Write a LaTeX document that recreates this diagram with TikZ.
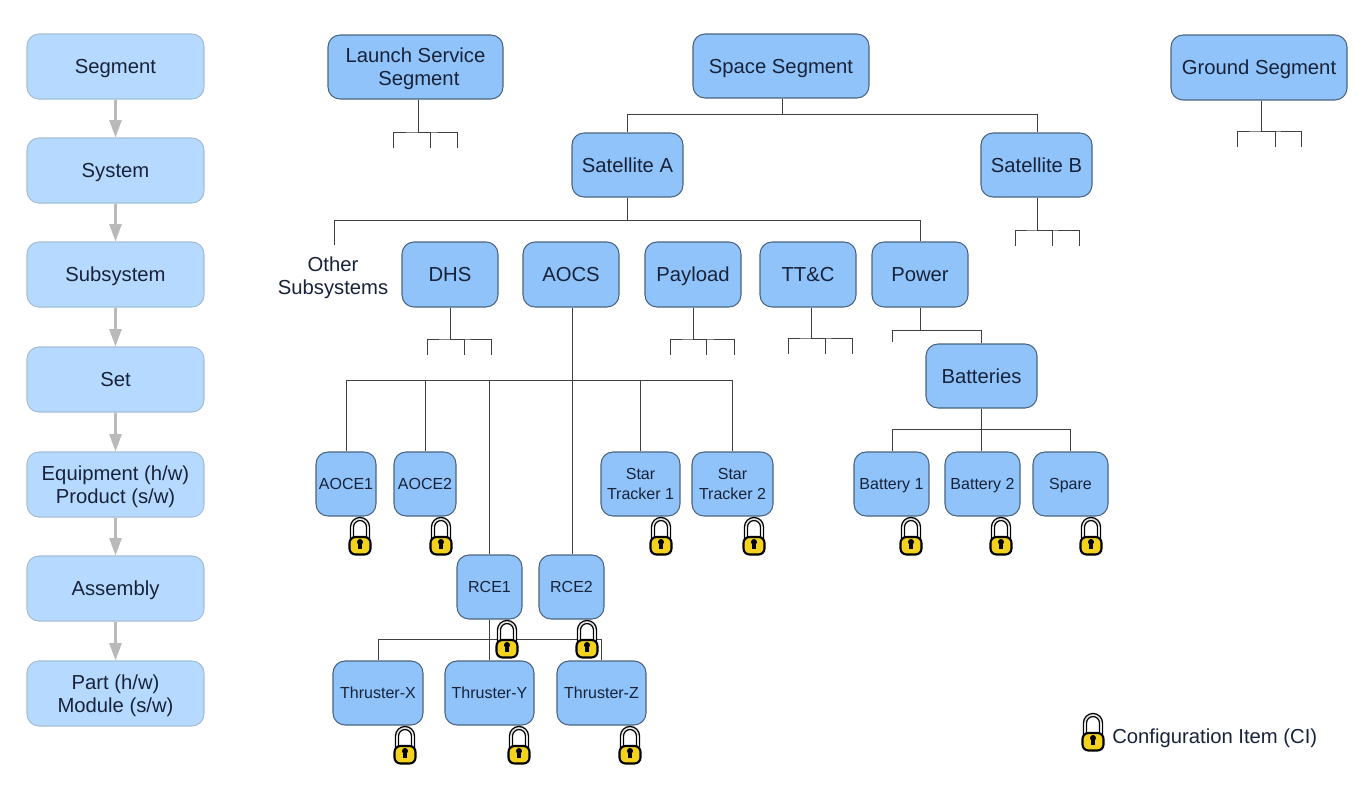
\documentclass[tikz,border=0pt]{standalone}
\usepackage{fontspec}
\setmainfont{Liberation Sans}
\usetikzlibrary{arrows.meta}
\definecolor{mainfill}{HTML}{90C3FA}
\definecolor{mainedge}{HTML}{4A6480}
\definecolor{levelfill}{HTML}{B6DAFF}
\definecolor{leveledge}{HTML}{A4BDD6}
\definecolor{inktext}{HTML}{18233A}
\definecolor{lockgold}{HTML}{F3D21E}
\newcommand{\capstrut}{\rule[-.2em]{0pt}{1.12em}}
\tikzset{
  x=0.75pt,y=-0.75pt,
  base box/.style={rectangle,rounded corners=9pt,align=center,inner sep=0pt,text=inktext,font=\fontsize{15.2}{17.25}\selectfont},
  mainbox/.style={base box,draw=mainedge,fill=mainfill,line width=0.8pt},
  smallbox/.style={mainbox,font=\fontsize{12}{15}\selectfont},
  levelbox/.style={base box,draw=leveledge,fill=levelfill,line width=0.8pt},
  link/.style={draw=black!75,line width=0.75pt},
  levelarrow/.style={draw=black!27,line width=1.9pt,-{Triangle[width=9pt,length=13pt]}},
  plain label/.style={align=center,inner sep=0pt,text=inktext,font=\fontsize{15.2}{17.25}\selectfont},
  lock/.pic={
    \draw[black,line width=3.2pt] (-8,3) -- (-8,-9) arc[start angle=180,end angle=360,radius=8] -- (8,3);
    \draw[black!10,line width=1.2pt] (-8,3) -- (-8,-9) arc[start angle=180,end angle=360,radius=8] -- (8,3);
    \draw[black,fill=lockgold,line width=1.6pt,rounded corners=4.5pt] (-10.5,1) rectangle (10.5,18.5);
    \fill[black] (0,6) circle[radius=3];
    \fill[black] (-1.6,6) rectangle (1.6,13);
  }
}
\newcommand{\bx}[7][mainbox]{%
  \node[#1,minimum width={(#5-#3)*0.75pt},minimum height={(#6-#4)*0.75pt}] (#2) at ({(#3+#5)/2},{(#4+#6)/2}) {\capstrut #7\capstrut};}
% stub: node, stem x, bus y, left x, mid x, right x, lower y
\newcommand{\stub}[7]{%
  \coordinate (#1-bus) at (#2,#3);
  \coordinate (#1-l) at (#4,#7);
  \coordinate (#1-m) at (#5,#7);
  \coordinate (#1-r) at (#6,#7);
  \coordinate (#1-mb) at (#5,#3);
  \draw[link] (#1.south -| #1-bus) -- (#1-bus);
  \draw[link] (#1-l) |- (#1-bus) -| (#1-r);
  \draw[link] (#1-bus) -- (#1-mb) -- (#1-m);}
\begin{document}
\begin{tikzpicture}
\useasboundingbox (0,0) rectangle (1372,810);
\fill[white] (0,0) rectangle (1372,810);

% level column
\bx[levelbox]{lvsegment}{27}{34}{204}{99}{Segment}
\bx[levelbox]{lvsystem}{27}{138}{204}{203}{System}
\bx[levelbox]{lvsubsystem}{27}{242}{204}{307}{Subsystem}
\bx[levelbox]{lvset}{27}{347}{204}{412}{Set}
\bx[levelbox]{lvequipment}{27}{452}{204}{517}{Equipment (h/w)\\Product (s/w)}
\bx[levelbox]{lvassembly}{27}{556}{204}{621}{Assembly}
\bx[levelbox]{lvpart}{27}{661}{204}{726}{Part (h/w)\\Module (s/w)}
\draw[levelarrow] (lvsegment) -- (lvsystem);
\draw[levelarrow] (lvsystem) -- (lvsubsystem);
\draw[levelarrow] (lvsubsystem) -- (lvset);
\draw[levelarrow] (lvset) -- (lvequipment);
\draw[levelarrow] (lvequipment) -- (lvassembly);
\draw[levelarrow] (lvassembly) -- (lvpart);

% segments
\bx{launch}{328}{35}{503}{99}{Launch Service\\\hspace*{5pt}Segment}
\bx{space}{693}{34}{869}{98}{Space Segment}
\bx{ground}{1171}{35}{1347}{100}{Ground Segment}
\bx{sata}{572}{133}{683}{197}{Satellite A}
\bx{satb}{981}{133}{1092}{197}{Satellite B}
% subsystems
\bx{dhs}{402}{242}{498}{307}{DHS}
\bx{aocs}{523}{242}{619}{307}{AOCS}
\bx{payload}{645}{242}{741}{307}{Payload}
\bx{ttc}{760}{242}{856}{307}{TT\&C}
\bx{power}{872}{242}{968}{307}{Power}
\bx{batteries}{926}{344}{1037}{408}{Batteries}
% equipment
\bx[smallbox]{aoce1}{316}{452}{376}{516}{AOCE1}
\bx[smallbox]{aoce2}{394}{452}{456}{516}{AOCE2}
\bx[smallbox]{star1}{601}{452}{680}{516}{Star\\Tracker 1}
\bx[smallbox]{star2}{692}{452}{773}{516}{Star\\Tracker 2}
\bx[smallbox]{bat1}{854}{452}{929}{516}{Battery 1}
\bx[smallbox]{bat2}{945}{452}{1020}{516}{Battery 2}
\bx[smallbox]{spare}{1033}{452}{1108}{516}{Spare}
\bx[smallbox]{rce1}{457}{555}{522}{619}{RCE1}
\bx[smallbox]{rce2}{539}{555}{604}{619}{RCE2}
\bx[smallbox]{thx}{333}{661}{423}{725}{Thruster-X}
\bx[smallbox]{thy}{445}{661}{534}{725}{Thruster-Y}
\bx[smallbox]{thz}{557}{661}{646}{725}{Thruster-Z}

\node[plain label] (other) at (333,275.5) {\capstrut Other\\Subsystems\capstrut};

% stubs
\stub{launch}{418}{132}{393}{430}{457}{148}
\stub{ground}{1261}{131}{1237}{1275}{1301}{147}
\stub{satb}{1037}{230}{1015}{1052}{1079}{246}
\stub{dhs}{450}{339}{427}{464}{491}{355}
\stub{payload}{693}{339}{670}{706}{734}{355}
\stub{ttc}{811}{338}{788}{825}{852}{354}

% space to satellites
\coordinate (spacebus) at (782,114);
\draw[link] (space.south -| spacebus) -- (spacebus);
\draw[link] (spacebus) -| (sata.north -| 627,0);
\draw[link] (spacebus) -| (satb.north -| 1037,0);

% satellite A to subsystems
\coordinate (satabus) at (627,220);
\coordinate (otherend) at (334,245);
\draw[link] (sata.south -| satabus) -- (satabus);
\draw[link] (satabus) -| (otherend);
\draw[link] (satabus) -| (power.north -| 920,0);
\draw[link] (dhs.north -| 450,0) -- (dhs.north -| 450,220);
\draw[link] (aocs.north -| 572,0) -- (aocs.north -| 572,220);
\draw[link] (payload.north -| 693,0) -- (payload.north -| 693,220);
\draw[link] (ttc.north -| 809,0) -- (ttc.north -| 809,220);

% power to batteries
\coordinate (powerbus) at (920,330);
\coordinate (powerend) at (892,342);
\draw[link] (power.south -| powerbus) -- (powerbus);
\draw[link] (powerbus) -| (powerend);
\draw[link] (powerbus) -| (batteries.north -| 981,0);

% batteries to battery units
\coordinate (batbus) at (981,429);
\draw[link] (batteries.south -| batbus) -- (batbus);
\draw[link] (batbus) -| (bat1.north -| 892,0);
\draw[link] (batbus) -- (bat2.north -| batbus);
\draw[link] (batbus) -| (spare.north -| 1070,0);

% AOCS
\coordinate (aocsbus) at (572,380);
\draw[link] (aocs.south -| aocsbus) -- (rce2.north -| aocsbus);
\draw[link] (aocsbus) -| (aoce1.north -| 346,0);
\draw[link] (aocsbus) -| (aoce2.north -| 425,0);
\draw[link] (aocsbus) -| (rce1.north -| 489,0);
\draw[link] (aocsbus) -| (star1.north -| 640,0);
\draw[link] (aocsbus) -| (star2.north -| 732,0);

% RCE to thrusters
\coordinate (rcebus) at (489,639);
\draw[link] (rce1.south -| rcebus) -- (thy.north -| rcebus);
\draw[link] (rcebus) -| (thx.north -| 378,0);
\draw[link] (rcebus) -| (thz.north -| 601,0);

% locks
\foreach \lx/\ly in {360/536,441/536,661/536,754/536,911/536,1001/536,1091/536,507/639,587/639,405/745,519/745,630/745}
  \pic at (\lx,\ly) {lock};
\pic at (1093,732) {lock};
\node[plain label,anchor=west] (legend) at (1112,736) {\capstrut Configuration Item (CI)};
\end{tikzpicture}
\end{document}
